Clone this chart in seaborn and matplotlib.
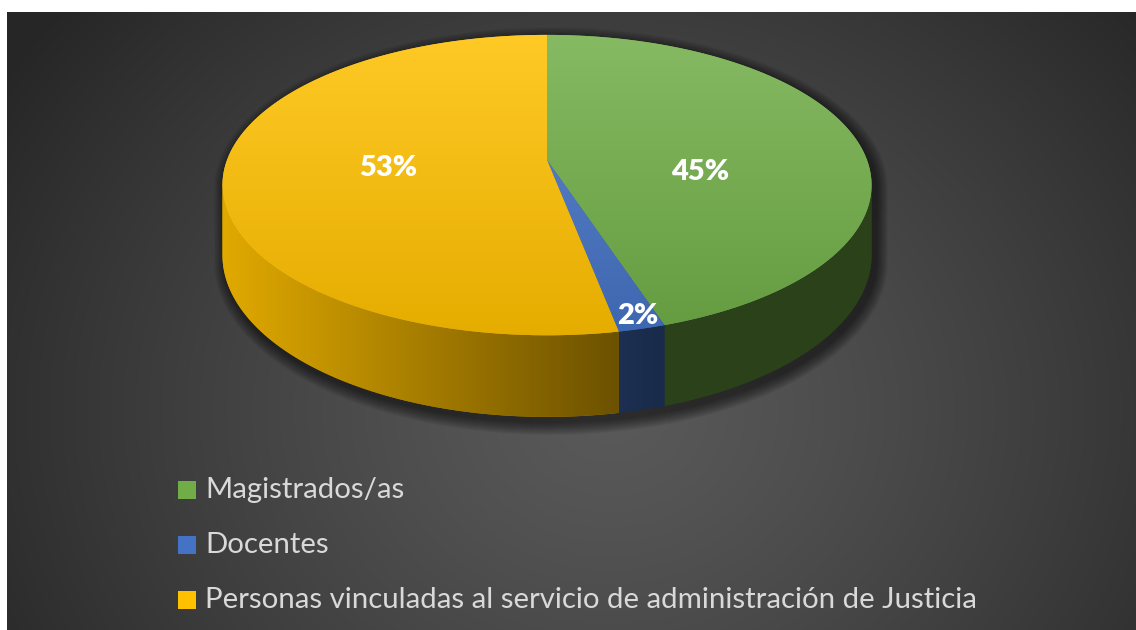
import numpy as np
import matplotlib
matplotlib.use("Agg")
import matplotlib.pyplot as plt
from matplotlib.patches import Polygon, Rectangle
import seaborn as sns

# ─────────────────────────────────────────────
# DATA
# ─────────────────────────────────────────────
categories = [
    "Magistrados/as",
    "Docentes",
    "Personas vinculadas al servicio de administración de Justicia",
]
shares = [45, 2, 53]
pct_labels = ["45%", "2%", "53%"]
slice_colors = ["#70AD47", "#4472C4", "#FFC000"]

# ─────────────────────────────────────────────
# GEOMETRY (pixels, y downwards)
# ─────────────────────────────────────────────
W, H = 1136, 630
CX, CY = 547, 160          # centre of the top face
RX, RY = 320, 146          # radii of the top face
K = 0.167                  # perspective strength
DEPTH = 68                 # thickness of the disc
LABEL_XY = [(700, 172), (638, 316), (388, 168)]

sns.set_theme(style="white")
plt.rcParams["font.family"] = ["Lato", "DejaVu Sans"]
palette = sns.color_palette(slice_colors)


def project(theta, frac=1.0, drop=0.0):
    t = np.radians(theta)
    u, v = frac * np.sin(t), frac * np.cos(t)
    s = 1.0 / (1.0 + K * v)
    return CX + RX * u * s, CY - RY * v * s + drop * s


def arc(a, b, drop=0.0, n=120):
    th = np.linspace(a, b, n)
    x, y = project(th, drop=drop)
    return np.column_stack([x, y])


def gradient_fill(ax, pts, img, z):
    cx = int(np.clip(pts[:, 0].mean(), 0, W - 1))
    cy = int(np.clip(pts[:, 1].mean(), 0, H - 1))
    base = Polygon(pts, closed=True, fc=img[cy, cx], ec="none", zorder=z)
    ax.add_patch(base)
    im = ax.imshow(img, extent=(0, W, H, 0), interpolation="bilinear",
                   aspect="auto", zorder=z + 0.1)
    im.set_clip_path(base)


fig = plt.figure(figsize=(W / 100, H / 100), dpi=100, facecolor="white")
ax = fig.add_axes([0, 0, 1, 1])

# ── background: dark radial gradient ──
yy, xx = np.mgrid[0:H, 0:W]
d = np.hypot(xx - 610, (yy - 410) * 1.15)
bg = np.clip(0.35 - 0.20 * (d / 720) ** 1.25, 0.15, 1)
ax.imshow(np.dstack([bg, bg, bg]), extent=(0, W, H, 0), aspect="auto", zorder=0)
ax.add_patch(Rectangle((0, 0), 7, H, fc="white", ec="none", zorder=0.5))
ax.add_patch(Rectangle((0, 0), W, 12, fc="white", ec="none", zorder=0.5))

# ── slice angles (clockwise from 12 o'clock) ──
edges = np.concatenate([[0], np.cumsum(shares)]) * 360.0 / sum(shares)
th_r = np.degrees(np.arccos(-K))
th_l = 360 - th_r

# ── soft shadow under the disc ──
sil = np.vstack([arc(th_l, 360 + th_r), arc(th_r, th_l, drop=DEPTH)])
cen = sil.mean(axis=0)
for i in range(12, 0, -1):
    sc = np.array([1 + i / RX, 1 + i / (RY + DEPTH / 2)])
    pts = cen + (sil - cen) * sc + np.array([4, 5])
    ax.add_patch(Polygon(pts, fc="black", alpha=0.05, ec="none", zorder=1))

# ── side walls ──
side_shade = np.clip(0.88 - (xx - 225) * 0.46 / 395, 0.38, 1.0)
for i, col in enumerate(palette):
    a, b = max(edges[i], th_r), min(edges[i + 1], th_l)
    if b <= a:
        continue
    pts = np.vstack([arc(a, b), arc(b, a, drop=DEPTH)])
    img = np.asarray(col)[None, None, :] * side_shade[:, :, None]
    gradient_fill(ax, pts, np.clip(img, 0, 1), 2)

# ── top faces ──
t = np.clip((yy - 35) / 300.0, 0, 1)[:, :, None]
for i, col in enumerate(palette):
    c = np.asarray(col)[None, None, :]
    light = c + (1 - c) * 0.15
    dark = c * 0.9
    img = light * (1 - t) + dark * t
    pts = np.vstack([[CX, CY], arc(edges[i], edges[i + 1])])
    gradient_fill(ax, pts, np.clip(img, 0, 1), 3)

# ── data labels ──
for (lx, ly), txt in zip(LABEL_XY, pct_labels):
    ax.text(lx, ly, txt, color="white", fontsize=21, fontweight="heavy",
            ha="center", va="center", zorder=5)

# ── legend ──
for i, (name, col) in enumerate(zip(categories, palette)):
    y0 = 490 + i * 55
    ax.add_patch(Rectangle((178, y0 - 9), 18, 18, fc=col, ec="none", zorder=5))
    ax.text(205, y0, name, color="#d9d9d9", fontsize=21.2,
            ha="left", va="center", zorder=5)

ax.set_xlim(0, W)
ax.set_ylim(H, 0)
ax.axis("off")
fig.savefig("out.png", dpi=100, facecolor="white")
